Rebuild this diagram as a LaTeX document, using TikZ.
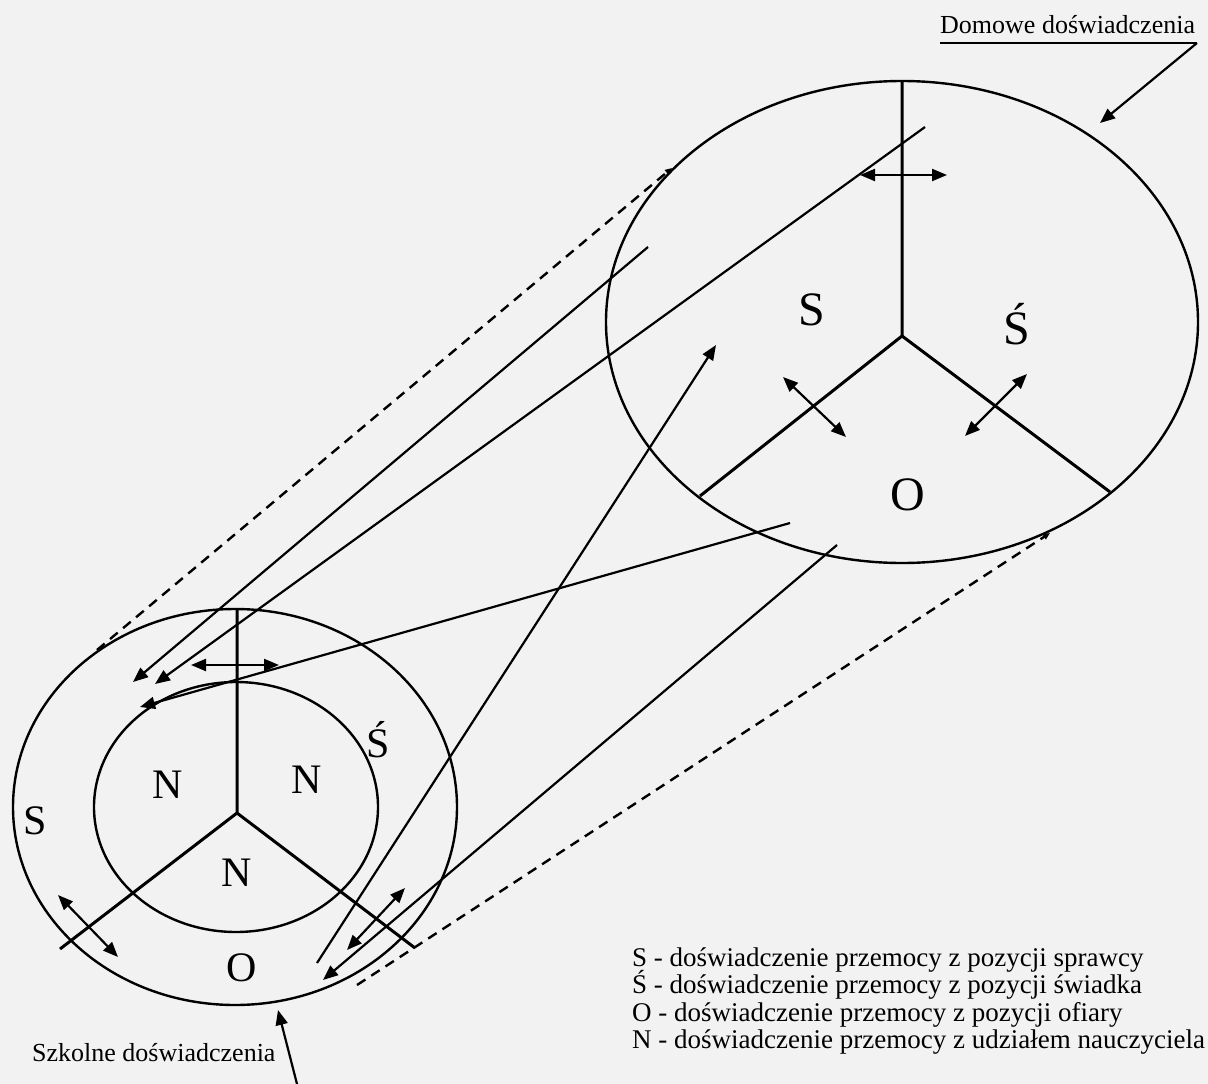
\documentclass[tikz,border=0pt]{standalone}
\usepackage{fontspec}
\setmainfont{Liberation Serif}
\usetikzlibrary{arrows.meta,shapes.geometric}

\tikzset{
  ring/.style={draw, ellipse, line width=2.4pt, inner sep=0pt},
  branch/.style={line width=3pt},
  link/.style={line width=2.2pt},
  dashlink/.style={line width=2.4pt, dash pattern=on 10pt off 7pt},
  letter/.style={font=\fontsize{42}{42}\selectfont, inner sep=0pt},
  bigletter/.style={font=\fontsize{48}{48}\selectfont, inner sep=0pt},
  caption/.style={font=\fontsize{26}{28}\selectfont, inner sep=0pt, anchor=base west},
  legend/.style={font=\fontsize{27}{28}\selectfont, inner sep=0pt, anchor=base west},
  >={Triangle[length=15pt,width=12pt]},
}

\begin{document}
\begin{tikzpicture}[x=1pt,y=-1pt]

\fill[black!5] (0,0) rectangle (1208,1084);
\useasboundingbox (0,0) rectangle (1208,1084);

\node[ring, minimum width=592pt, minimum height=482pt] (home) at (902,322) {};
\node[ring, minimum width=444pt, minimum height=396pt] (school) at (235,807) {};
\node[ring, minimum width=284pt, minimum height=250pt] (inner) at (236,807) {};

\coordinate (hc) at (902,336);
\coordinate (htop) at (902,82);
\coordinate (hleft) at (700,496);
\coordinate (hright) at (1110,492);

\coordinate (sc) at (237,813);
\coordinate (stop) at (237,609);
\coordinate (sleft) at (60,949);
\coordinate (sright) at (415,948);

\draw[branch] (htop) -- (hc) -- (hleft);
\draw[branch] (hc) -- (hright);
\draw[branch] (stop) -- (sc) -- (sleft);
\draw[branch] (sc) -- (sright);

\node[bigletter] (hs) at (812,310) {S};
\node[bigletter] (hsw) at (1017,324) {Ś};
\node[bigletter] (ho) at (908,495) {O};

\node[letter] (ss) at (35,821) {S};
\node[letter] (ssw) at (378,740) {Ś};
\node[letter] (so) at (242,968) {O};
\node[letter] (n1) at (168,785) {N};
\node[letter] (n2) at (307,780) {N};
\node[letter] (n3) at (237,873) {N};

\coordinate (h1a) at (860,175);
\coordinate (h1b) at (947,175);
\coordinate (h2a) at (783,377);
\coordinate (h2b) at (846,437);
\coordinate (h3a) at (1027,374);
\coordinate (h3b) at (965,436);

\draw[link,<->] (h1a) -- (h1b);
\draw[link,<->] (h2a) -- (h2b);
\draw[link,<->] (h3a) -- (h3b);

\coordinate (s1a) at (191,665);
\coordinate (s1b) at (279,665);
\coordinate (s2a) at (58,895);
\coordinate (s2b) at (118,957);
\coordinate (s3a) at (405,888);
\coordinate (s3b) at (347,950);

\draw[link,<->] (s1a) -- (s1b);
\draw[link,<->] (s2a) -- (s2b);
\draw[link,<->] (s3a) -- (s3b);

\coordinate (la) at (925,127);
\coordinate (lat) at (155,684);
\coordinate (lb) at (648,247);
\coordinate (lbt) at (133,682);
\coordinate (lc) at (790,523);
\coordinate (lct) at (140,707);
\coordinate (ld) at (837,545);
\coordinate (ldt) at (323,980);
\coordinate (le) at (317,963);
\coordinate (let) at (716,345);

\draw[link,->] (la) -- (lat);
\draw[link,->] (lb) -- (lbt);
\draw[link,->] (lc) -- (lct);
\draw[link,->] (ld) -- (ldt);
\draw[link,->] (le) -- (let);

\coordinate (da) at (97,650);
\coordinate (dat) at (672,168);
\coordinate (db) at (357,985);
\coordinate (dbt) at (1050,533);

\draw[dashlink,-{Triangle[length=7pt,width=6pt]}] (da) -- (dat);
\draw[dashlink,-{Triangle[length=7pt,width=6pt]}] (db) -- (dbt);

\node[caption] (homelabel) at (940,33) {Domowe doświadczenia};
\coordinate (ul1) at (940,43);
\coordinate (ul2) at (1197,43);
\coordinate (homept) at (1100,123);
\draw[line width=1.8pt] (ul1) -- (ul2);
\draw[link,->] (ul2) -- (homept);

\node[caption] (schoollabel) at (32,1061) {Szkolne doświadczenia};
\coordinate (sfoot) at (297,1084);
\coordinate (schoolpt) at (278,1010);
\draw[link,->] (sfoot) -- (schoolpt);

\node[legend] (leg1) at (632,966) {S - doświadczenie przemocy z pozycji sprawcy};
\node[legend] (leg2) at (632,993.5) {Ś - doświadczenie przemocy z pozycji świadka};
\node[legend] (leg3) at (632,1021) {O - doświadczenie przemocy z pozycji ofiary};
\node[legend] (leg4) at (632,1048.5) {N - doświadczenie przemocy z udziałem nauczyciela};

\end{tikzpicture}
\end{document}
